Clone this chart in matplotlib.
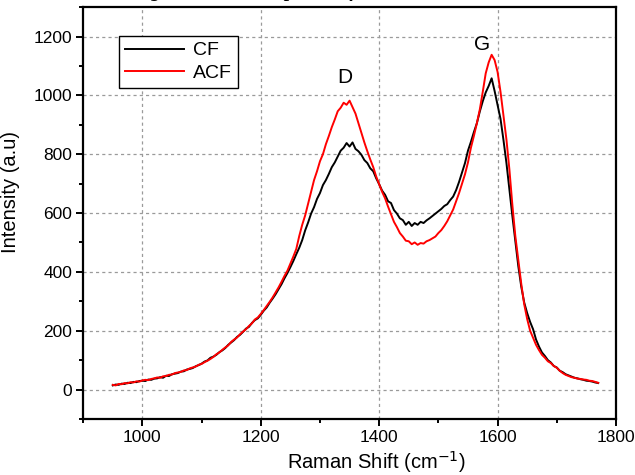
import matplotlib
matplotlib.use("Agg")
import matplotlib.pyplot as plt
from matplotlib.ticker import MultipleLocator

plt.rcParams['font.family'] = ['Liberation Sans', 'DejaVu Sans']

wavenumber = list(range(950, 1775, 5))

cf = [14, 17, 16, 20, 19, 23, 22, 26, 25, 29,
      30, 29, 34, 33, 37, 38, 42, 40, 47, 46,
      52, 54, 56, 61, 62, 68, 70, 73, 79, 83,
      88, 95, 99, 108, 112, 118, 127, 133, 141, 152,
      160, 168, 179, 186, 196, 207, 213, 226, 236, 242,
      254, 268, 279, 295, 309, 324, 341, 358, 378, 396,
      416, 437, 460, 482, 508, 541, 568, 598, 620, 648,
      668, 695, 712, 733, 756, 772, 792, 812, 822, 838,
      826, 840, 818, 810, 798, 780, 770, 752, 742, 718,
      698, 676, 662, 640, 634, 610, 598, 582, 576, 560,
      570, 556, 566, 560, 570, 566, 575, 582, 590, 598,
      606, 614, 624, 630, 644, 656, 678, 706, 738, 770,
      812, 842, 875, 905, 945, 980, 1010, 1032, 1058, 1015,
      968, 920, 848, 770, 680, 590, 505, 420, 350, 296,
      260, 230, 205, 170, 146, 126, 114, 100, 92, 80,
      75, 64, 59, 52, 48, 44, 40, 38, 35, 33,
      30, 29, 27, 24, 22]

acf = [16, 14, 19, 18, 22, 21, 25, 24, 28, 27,
       31, 33, 32, 36, 38, 41, 40, 45, 46, 50,
       51, 56, 58, 60, 65, 66, 72, 75, 78, 84,
       87, 93, 98, 104, 111, 120, 126, 135, 143, 150,
       162, 170, 177, 188, 197, 205, 216, 225, 238, 245,
       257, 270, 284, 298, 313, 330, 347, 366, 386, 404,
       428, 452, 478, 522, 560, 592, 632, 672, 712, 742,
       776, 800, 834, 862, 892, 918, 946, 958, 975, 968,
       982, 960, 938, 905, 872, 840, 810, 782, 756, 724,
       698, 672, 650, 622, 596, 570, 552, 532, 520, 506,
       504, 494, 500, 492, 498, 496, 504, 508, 514, 520,
       532, 542, 556, 572, 592, 612, 640, 668, 700, 732,
       772, 822, 862, 905, 952, 1012, 1075, 1112, 1138, 1120,
       1080, 1012, 932, 850, 748, 628, 522, 440, 360, 290,
       240, 200, 176, 152, 134, 118, 108, 96, 90, 80,
       74, 64, 56, 50, 46, 42, 40, 37, 36, 34,
       33, 30, 29, 26, 23]

series_labels = ["CF", "ACF"]
peak_labels = ["D", "G"]
peak_pos = [(1342, 1060), (1574, 1174)]

fig = plt.figure(figsize=(6.35, 4.75), dpi=100)
ax = fig.add_axes([0.131, 0.118, 0.839, 0.867])

ax.plot(wavenumber, cf, color='black', lw=1.4, label=series_labels[0], zorder=3)
ax.plot(wavenumber, acf, color='#ff0000', lw=1.4, label=series_labels[1], zorder=4)

ax.set_xlim(900, 1800)
ax.set_ylim(-100, 1300)
ax.xaxis.set_major_locator(MultipleLocator(200))
ax.xaxis.set_minor_locator(MultipleLocator(100))
ax.yaxis.set_major_locator(MultipleLocator(200))
ax.yaxis.set_minor_locator(MultipleLocator(100))

ax.grid(True, which='major', color='#9a9a9a', linestyle=(0, (2.5, 2.5)), lw=0.9)
ax.set_axisbelow(True)

for s in ax.spines.values():
    s.set_linewidth(1.6)
ax.tick_params(which='both', direction='out', top=False, right=False, width=1.4,
               labelsize=12.5, colors='black')
ax.tick_params(which='major', length=5, pad=3)
ax.tick_params(which='minor', length=3)

ax.set_xlabel("Raman Shift (cm$^{-1}$)", fontsize=14.5)
ax.set_ylabel("Intensity (a.u)", fontsize=14.5)
ax.xaxis.set_label_coords(0.55, -0.073)
ax.yaxis.set_label_coords(-0.118, 0.55)

for lab, (px, py) in zip(peak_labels, peak_pos):
    ax.text(px, py, lab, fontsize=15, ha='center', va='center')

leg = ax.legend(loc='upper left', bbox_to_anchor=(0.068, 0.93), fontsize=14,
                frameon=True, fancybox=False, edgecolor='black', framealpha=1,
                handlelength=3.0, handletextpad=0.5, borderpad=0.3, labelspacing=0.25,
                borderaxespad=0)
leg.get_frame().set_linewidth(1.0)

fig.text(0.21, 1.007, "Figure 2: Raman spectra of CF and ACF", fontsize=14,
         family=['Liberation Serif', 'DejaVu Serif'], style='italic', weight='bold',
         ha='left', va='baseline')

fig.savefig("out.png", dpi=100)
